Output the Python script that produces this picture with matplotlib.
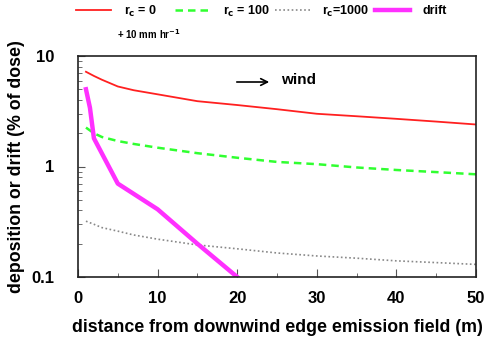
import matplotlib
matplotlib.use("Agg")
import matplotlib.pyplot as plt
from matplotlib.patches import FancyArrowPatch
from matplotlib.ticker import FixedLocator, FixedFormatter, LogLocator, NullFormatter, MultipleLocator

plt.rcParams['font.family'] = ['Liberation Sans', 'DejaVu Sans']
plt.rcParams['font.weight'] = 'bold'
plt.rcParams['mathtext.default'] = 'bf'

# data
x_dep = [1, 2, 3, 5, 7, 10, 15, 20, 25, 30, 35, 40, 45, 50]
rc0 = [7.2, 6.6, 6.1, 5.3, 4.9, 4.5, 3.9, 3.6, 3.3, 3.0, 2.85, 2.7, 2.55, 2.4]
rc100 = [2.25, 2.0, 1.85, 1.7, 1.6, 1.48, 1.32, 1.2, 1.1, 1.05, 0.98, 0.93, 0.89, 0.85]
rc1000 = [0.32, 0.30, 0.28, 0.26, 0.24, 0.22, 0.195, 0.18, 0.165, 0.155, 0.148, 0.14, 0.135, 0.13]
x_drift = [1, 1.5, 2, 5, 10, 15, 20]
drift = [5.0, 3.4, 1.8, 0.7, 0.41, 0.2, 0.1]

labels = [r'r$_{c}$ = 0', r'r$_{c}$ = 100', r'r$_{c}$=1000', 'drift']
xticks = [0, 10, 20, 30, 40, 50]
yticks = [0.1, 1, 10]
yticklabels = ['0.1', '1', '10']

fig = plt.figure(figsize=(4.9, 3.44), dpi=100)
ax = fig.add_axes([78/490, 1-277/344, (476-78)/490, (277-56)/344])

l1, = ax.plot(x_dep, rc0, color='#ff2020', lw=1.3, ls='-')
l2, = ax.plot(x_dep, rc100, color='#30ff30', lw=1.8, ls=(0, (3, 2)))
l3, = ax.plot(x_dep, rc1000, color='#888888', lw=1.2, ls=(0, (1, 1.5)))
l4, = ax.plot(x_drift, drift, color='#ff30ff', lw=3.2, ls='-')

ax.set_yscale('log')
ax.set_xlim(0, 50)
ax.set_ylim(0.1, 10)
ax.xaxis.set_major_locator(FixedLocator(xticks))
ax.xaxis.set_minor_locator(MultipleLocator(5))
ax.yaxis.set_major_locator(FixedLocator(yticks))
ax.yaxis.set_major_formatter(FixedFormatter(yticklabels))
ax.yaxis.set_minor_locator(LogLocator(base=10, subs=range(2, 10)))
ax.yaxis.set_minor_formatter(NullFormatter())

ax.tick_params(axis='both', which='both', direction='in', top=False, right=False,
               labelsize=12, color='#555555')
ax.tick_params(axis='x', which='major', length=6, pad=10)
ax.tick_params(axis='x', which='minor', length=3)
ax.tick_params(axis='y', which='major', length=5, pad=17)
ax.tick_params(axis='y', which='minor', length=3)
for lbl in ax.get_xticklabels() + ax.get_yticklabels():
    lbl.set_fontweight('bold')
for s in ax.spines.values():
    s.set_linewidth(1.2)
    s.set_color('#222222')

ax.set_xlabel('distance from downwind edge emission field (m)', fontsize=12.8, fontweight='bold', va='center')
ax.xaxis.set_label_coords(0.5, (277-327)/221)
ax.set_ylabel('deposition or drift (% of dose)', fontsize=12.8, fontweight='bold', va='center')
ax.yaxis.set_label_coords((17-78)/398, 0.5)

handles = [l1, l2, l3, l4]
handle_x = [78, 177, 277, 377]
for h, lab, hx in zip(handles, labels, handle_x):
    lg = fig.legend([h], [lab], loc='center left', bbox_to_anchor=((hx - 2)/490, 1-11/344),
                    frameon=False, fontsize=9, handlelength=2.8, handletextpad=1.0,
                    borderaxespad=0, borderpad=0)
fig.text(117/490, 1-34/344, r'+ 10 mm hr$^{-1}$', fontsize=7, fontweight='bold', va='center', ha='left')

fig.patches.append(FancyArrowPatch((234/490, 1-82/344), (272/490, 1-82/344),
                    transform=fig.transFigure, arrowstyle='->', mutation_scale=12, lw=1.2, color='black'))
fig.text(281/490, 1-80/344, 'wind', fontsize=11, fontweight='bold', va='center', ha='left')

fig.savefig('out.png', dpi=100)
